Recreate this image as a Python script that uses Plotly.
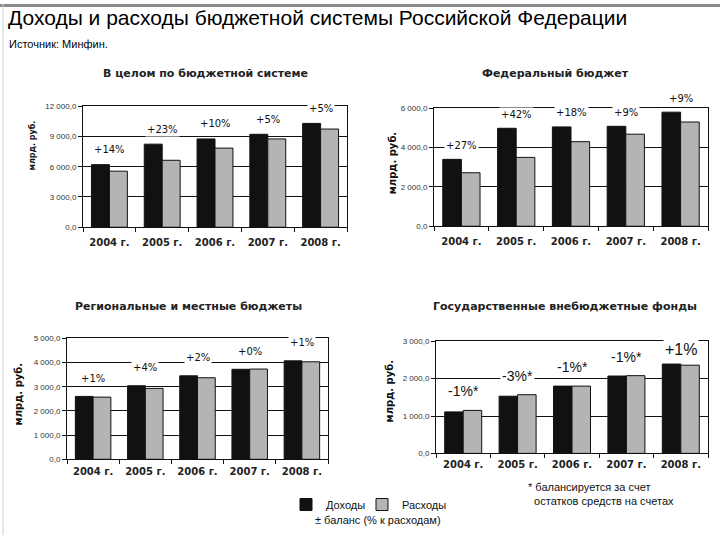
import plotly.graph_objects as go

years = ["2004 г.", "2005 г.", "2006 г.", "2007 г.", "2008 г."]

total_income = [6210, 8240, 8760, 9220, 10300]
total_spend = [5560, 6640, 7850, 8760, 9740]
total_balance = ["+14%", "+23%", "+10%", "+5%", "+5%"]
total_ticks = [0, 3000, 6000, 9000, 12000]
total_ticktext = ["0,0", "3 000,0", "6 000,0", "9 000,0", "12 000,0"]

fed_income = [3400, 4980, 5050, 5080, 5800]
fed_spend = [2720, 3500, 4300, 4680, 5300]
fed_balance = ["+27%", "+42%", "+18%", "+9%", "+9%"]
fed_ticks = [0, 2000, 4000, 6000]
fed_ticktext = ["0,0", "2 000,0", "4 000,0", "6 000,0"]

reg_income = [2600, 3040, 3450, 3720, 4070]
reg_spend = [2570, 2930, 3370, 3730, 4030]
reg_balance = ["+1%", "+4%", "+2%", "+0%", "+1%"]
reg_ticks = [0, 1000, 2000, 3000, 4000, 5000]
reg_ticktext = ["0,0", "1 000,0", "2 000,0", "3 000,0", "4 000,0", "5 000,0"]

fund_income = [1110, 1530, 1800, 2070, 2390]
fund_spend = [1150, 1570, 1800, 2080, 2360]
fund_balance = ["-1%*", "-3%*", "-1%*", "-1%*", "+1%"]
fund_ticks = [0, 1000, 2000, 3000]
fund_ticktext = ["0,0", "1 000,0", "2 000,0", "3 000,0"]

titles = ["В целом по бюджетной системе", "Федеральный бюджет",
          "Региональные и местные бюджеты", "Государственные внебюджетные фонды"]

W, H = 720, 540
FONT = "Liberation Sans, Arial, sans-serif"
DJV = "DejaVu Sans, sans-serif"
BLACK = "#111111"
GREY = "#b4b4b4"

# panel geometry in pixels (x0, x1, ytop, ybottom)
panels = [
    dict(px=(83, 347, 104, 227), inc=total_income, sp=total_spend, bal=total_balance,
         tv=total_ticks, tt=total_ticktext, shift=15, lab_family=DJV, lab_font=10,
         title_xy=(205, 71), ytitle_xy=(32, 144), ytitle_size=8, xstand=6),
    dict(px=(434, 708, 106, 226), inc=fed_income, sp=fed_spend, bal=fed_balance,
         tv=fed_ticks, tt=fed_ticktext, shift=14, lab_family=DJV, lab_font=10,
         title_xy=(555, 71), ytitle_xy=(392, 162), ytitle_size=10, xstand=6),
    dict(px=(67, 328, 340, 463), inc=reg_income, sp=reg_spend, bal=reg_balance,
         tv=reg_ticks, tt=reg_ticktext, shift=18, lab_family=DJV, lab_font=10,
         title_xy=(188, 308), ytitle_xy=(18, 397), ytitle_size=10, xstand=3),
    dict(px=(436, 708, 343, 457), inc=fund_income, sp=fund_spend, bal=fund_balance,
         tv=fund_ticks, tt=fund_ticktext, shift=19, lab_family=FONT, lab_font=14,
         title_xy=(565, 308), ytitle_xy=(389, 394), ytitle_size=10, xstand=2),
]

fig = go.Figure()
annotations = []

for i, p in enumerate(panels):
    n = i + 1
    xa = "x" if n == 1 else f"x{n}"
    ya = "y" if n == 1 else f"y{n}"
    x0, x1, yt, yb = p["px"]
    fig.add_trace(go.Bar(x=years, y=p["inc"], name="Доходы", marker_color=BLACK,
                         marker_line=dict(color=BLACK, width=1), xaxis=xa, yaxis=ya,
                         showlegend=(n == 1), legendgroup="inc", legend="legend"))
    fig.add_trace(go.Bar(x=years, y=p["sp"], name="Расходы", marker_color=GREY,
                         marker_line=dict(color=BLACK, width=1), xaxis=xa, yaxis=ya,
                         showlegend=(n == 1), legendgroup="sp", legend="legend2"))
    common_x = dict(domain=[x0 / W, x1 / W], anchor=ya, type="category",
                    showline=True, linecolor=BLACK, linewidth=1, mirror=True,
                    ticks="outside", tickson="boundaries", ticklen=4, tickcolor=BLACK,
                    tickfont=dict(family=DJV, size=10, color="#222", weight="bold"),
                    ticklabelstandoff=p["xstand"], showgrid=False, fixedrange=True)
    common_y = dict(domain=[1 - yb / H, 1 - yt / H], anchor=xa,
                    range=[0, p["tv"][-1]], tickvals=p["tv"], ticktext=p["tt"],
                    showline=True, linecolor=BLACK, linewidth=1, mirror=True,
                    ticks="outside", ticklen=4, tickcolor=BLACK,
                    tickfont=dict(family=FONT, size=8, color="#333"),
                    showgrid=True, gridcolor=BLACK, gridwidth=1, zeroline=False,
                    fixedrange=True)
    fig.layout[f"xaxis{'' if n == 1 else n}"] = common_x
    fig.layout[f"yaxis{'' if n == 1 else n}"] = common_y

    for yr, a, b, lab in zip(years, p["inc"], p["sp"], p["bal"]):
        big = (n == 4 and lab.startswith("+"))
        annotations.append(dict(x=yr, y=max(a, b), xref=xa, yref=ya, text=lab,
                                showarrow=False, yanchor="middle",
                                yshift=p["shift"] - (4 if big else 0),
                                bgcolor="white", borderpad=1,
                                font=dict(family=p["lab_family"], size=p["lab_font"] + (2 if big else 0),
                                          color=BLACK)))
    tx, ty = p["title_xy"]
    annotations.append(dict(x=tx / W, y=1 - ty / H, xref="paper", yref="paper",
                            text=titles[i], showarrow=False, xanchor="center", yanchor="middle",
                            font=dict(family=DJV, size=11, color="#222", weight="bold")))
    ax, ay = p["ytitle_xy"]
    annotations.append(dict(x=ax / W, y=1 - ay / H, xref="paper", yref="paper",
                            text="млрд. руб.", textangle=-90, showarrow=False,
                            xanchor="center", yanchor="middle",
                            font=dict(family=DJV, size=p["ytitle_size"], color="#111",
                                      weight="bold")))

annotations += [
    dict(x=6 / W, y=1 - 14 / H, xref="paper", yref="paper", xanchor="left", yanchor="middle",
         text="Доходы и расходы бюджетной системы Российской Федерации", showarrow=False,
         font=dict(family=FONT, size=21, color="#000")),
    dict(x=7 / W, y=1 - 41 / H, xref="paper", yref="paper", xanchor="left", yanchor="middle",
         text="Источник: Минфин.", showarrow=False,
         font=dict(family=FONT, size=11, color="#000")),
    dict(x=526 / W, y=1 - 498 / H, xref="paper", yref="paper", xanchor="left", yanchor="middle",
         text="* балансируется за счет<br>  остатков средств на счетах", showarrow=False, align="left",
         font=dict(family=FONT, size=11, color="#111")),
    dict(x=313 / W, y=1 - 525 / H, xref="paper", yref="paper", xanchor="left", yanchor="middle",
         text="± баланс (% к расходам)", showarrow=False,
         font=dict(family=FONT, size=11, color="#111")),
]

shapes = [
    dict(type="rect", xref="paper", yref="paper", x0=0, x1=1, y0=1 - 3 / H, y1=1,
         fillcolor="#8a8a8a", line_width=0),
    dict(type="line", xref="paper", yref="paper", x0=3 / W, x1=3 / W, y0=0, y1=1,
         line=dict(color="#d0d0d0", width=1)),
]

leg_common = dict(orientation="h", y=1 - 509 / H, xanchor="left", yanchor="middle",
                  font=dict(family=FONT, size=11, color="#111"), itemwidth=30,
                  bgcolor="rgba(0,0,0,0)", tracegroupgap=0)

fig.update_layout(
    width=W, height=H, margin=dict(l=0, r=0, t=0, b=0),
    paper_bgcolor="white", plot_bgcolor="white",
    barmode="group", bargap=0.32, bargroupgap=0,
    annotations=annotations, shapes=shapes,
    legend=dict(leg_common, x=286 / W),
    legend2=dict(leg_common, x=362 / W),
    showlegend=True,
)

fig.write_html("out.html", config={"displayModeBar": False},
               post_script="document.body.style.margin='0';document.body.style.overflow='hidden';"
                           "document.documentElement.style.overflow='hidden';")
